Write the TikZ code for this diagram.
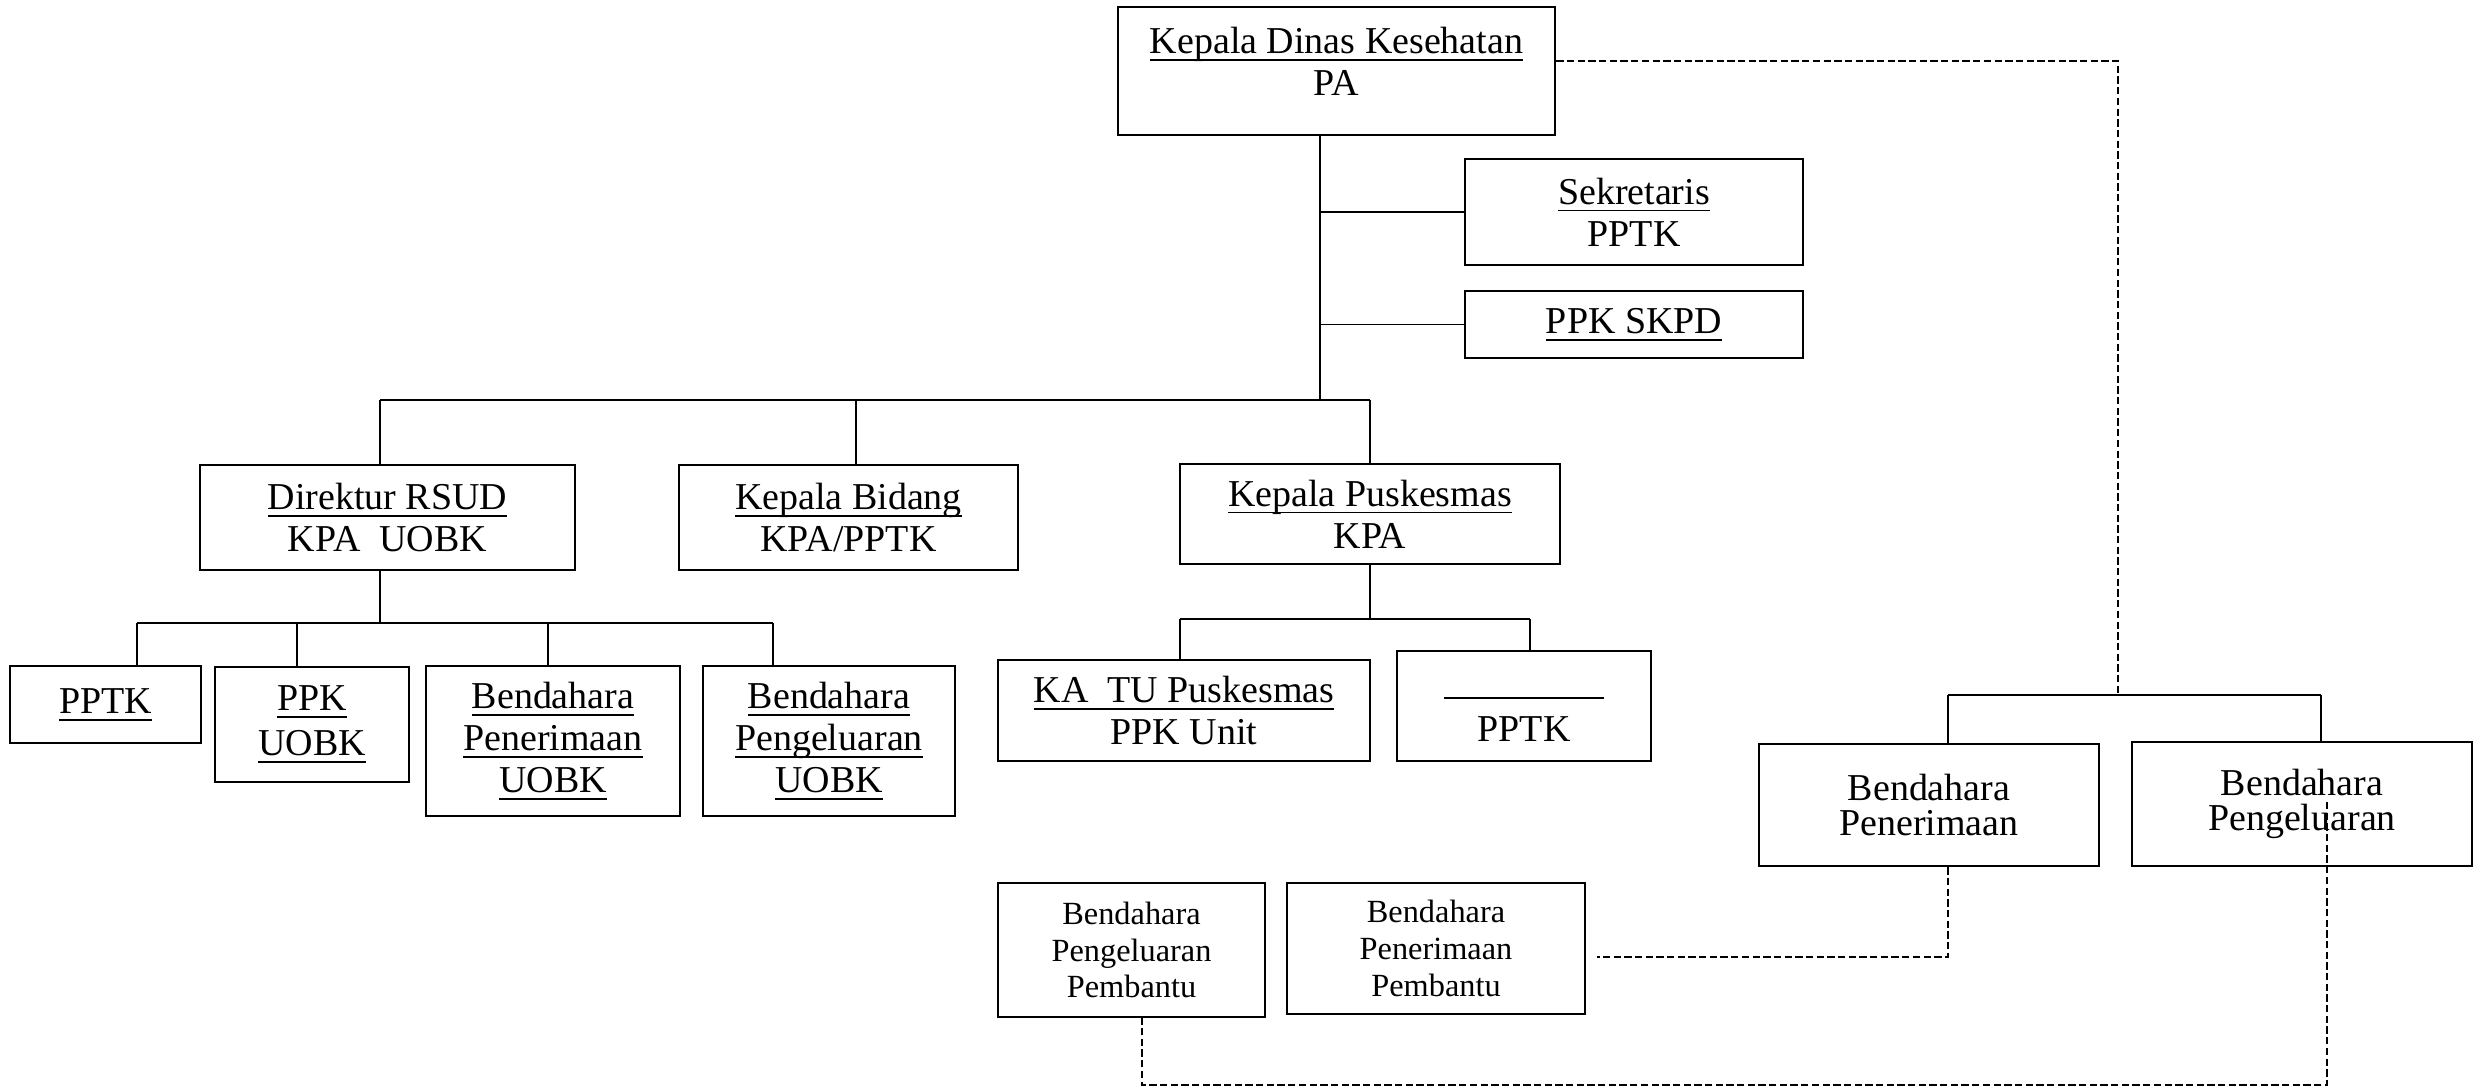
\documentclass[tikz,border=0pt]{standalone}
\usepackage{fontspec}
\setmainfont{Liberation Serif}
% underline at a fixed depth below the baseline, crossing descenders
\newsavebox\ulbox
\newcommand{\uln}[1]{\sbox\ulbox{#1}\rlap{\rule[-2.6pt]{\wd\ulbox}{0.65pt}}\usebox\ulbox}
\begin{document}
\begin{tikzpicture}[x=0.0125cm,y=-0.0125cm,
  box/.style={draw, line width=0.9pt, inner sep=0pt, align=center,
    font=\fontsize{13.5}{15}\selectfont},
  boxr/.style={box, font=\fontsize{13.5}{12.6}\selectfont},
  boxs/.style={box, font=\fontsize{11.5}{13.1}\selectfont},
  conn/.style={line width=0.7pt},
  thinconn/.style={line width=0.45pt},
  dsh/.style={line width=0.7pt, dash pattern=on 2.6pt off 1.2pt}]
\fill[white] (0,0) rectangle (2480,1089);
\useasboundingbox (0,0) rectangle (2480,1089);

% top level
\node[box, minimum width=5.4625cm, minimum height=1.6cm] (kadis) at (1336.5,71)
  {\uln{Kepala Dinas Kesehatan}\\PA\rule[-6.6pt]{0pt}{0pt}};
\node[box, minimum width=4.225cm, minimum height=1.325cm] (sek) at (1634,212)
  {\uln{Sekretaris}\\PPTK};
\node[box, minimum width=4.225cm, minimum height=0.8375cm] (skpd) at (1634,324.5)
  {\uln{PPK SKPD}};

% second level
\node[box, minimum width=4.6875cm, minimum height=1.3125cm] (dir) at (387.5,517.5)
  {\uln{Direktur RSUD}\\KPA~~UOBK};
\node[box, minimum width=4.2375cm, minimum height=1.3125cm] (kbid) at (848.5,517.5)
  {\uln{Kepala Bidang}\\KPA/PPTK};
\node[box, minimum width=4.75cm, minimum height=1.25cm] (kpus) at (1370,514)
  {\uln{Kepala Puskesmas}\\KPA};

% units under the hospital director
\node[box, minimum width=2.3875cm, minimum height=0.9625cm] (pptka) at (105.5,704.5)
  {\uln{PPTK}};
\node[box, minimum width=2.425cm, minimum height=1.4375cm] (ppkuobk) at (312,724.5)
  {\uln{PPK}\\[1pt]\uln{UOBK}};
\node[box, minimum width=3.175cm, minimum height=1.875cm] (bpu) at (553,741)
  {\uln{Bendahara}\\\uln{Penerimaan}\\\uln{UOBK}};
\node[box, minimum width=3.15cm, minimum height=1.875cm] (bgu) at (829,741)
  {\uln{Bendahara}\\\uln{Pengeluaran}\\\uln{UOBK}};

% units under the puskesmas head
\node[box, minimum width=4.65cm, minimum height=1.2625cm] (katu) at (1184,710.5)
  {\uln{KA~~TU Puskesmas}\\PPK Unit};
\node[box, minimum width=3.175cm, minimum height=1.375cm] (pptkb) at (1524,706)
  {\uln{\rule{0pt}{7.3pt}\hspace{57pt}}\\[2.6pt]PPTK};

% treasurers
\node[boxr, minimum width=4.25cm, minimum height=1.525cm] (bpen) at (1929,805)
  {Bendahara\\Penerimaan};
\node[boxr, minimum width=4.25cm, minimum height=1.55cm] (bpeng) at (2302,804)
  {Bendahara\\Pengeluaran};
\node[boxs, minimum width=3.3375cm, minimum height=1.675cm] (bpp1) at (1131.5,950)
  {Bendahara\\Pengeluaran\\Pembantu};
\node[boxs, minimum width=3.725cm, minimum height=1.6375cm] (bpp2) at (1436,948.5)
  {Bendahara\\Penerimaan\\Pembantu};

% main trunk and first bus
\coordinate (j0) at (1320,400);
\coordinate (b0l) at (380,400);
\coordinate (b0m) at (856,400);
\coordinate (b0r) at (1370,400);
\draw[conn] (j0 |- kadis.south) -- (j0);
\draw[conn] (j0 |- sek.west) -- (sek.west);
\draw[conn] (j0 |- skpd.west) -- (skpd.west);
\draw[conn] (b0l) -- (b0r);
\draw[conn] (b0l) -- (b0l |- dir.north);
\draw[conn] (b0m) -- (b0m |- kbid.north);
\draw[conn] (b0r) -- (kpus.north);

% bus under the hospital director
\coordinate (b1) at (380,623);
\coordinate (b1a) at (137,623);
\coordinate (b1b) at (297,623);
\coordinate (b1c) at (548,623);
\coordinate (b1d) at (773,623);
\draw[conn] (b1 |- dir.south) -- (b1);
\draw[conn] (b1a) -- (b1d);
\draw[conn] (b1a) -- (b1a |- pptka.north);
\draw[conn] (b1b) -- (b1b |- ppkuobk.north);
\draw[conn] (b1c) -- (b1c |- bpu.north);
\draw[conn] (b1d) -- (b1d |- bgu.north);

% bus under the puskesmas head
\coordinate (b2) at (1370,619);
\coordinate (b2a) at (1180,619);
\coordinate (b2b) at (1530,619);
\draw[conn] (kpus.south) -- (b2);
\draw[conn] (b2a) -- (b2b);
\draw[conn] (b2a) -- (b2a |- katu.north);
\draw[conn] (b2b) -- (b2b |- pptkb.north);

% treasurer links
\coordinate (d0) at (2118,61);
\coordinate (b3) at (2118,695);
\coordinate (b3a) at (1948,695);
\coordinate (b3b) at (2321,695);
\draw[dsh] (kadis.east |- d0) -- (d0) -- (b3);
\draw[thinconn] (b3a) -- (b3b);
\draw[thinconn] (b3a) -- (b3a |- bpen.north);
\draw[thinconn] (b3b) -- (b3b |- bpeng.north);

\coordinate (e0) at (1948,957);
\coordinate (e1) at (1597,957);
\draw[dsh] (b3a |- bpen.south) -- (e0) -- (e1);

\coordinate (f0) at (2327,802);
\coordinate (f1) at (2327,1085);
\coordinate (f2) at (1142,1085);
\draw[dsh] (f0) -- (f1) -- (f2) -- (f2 |- bpp1.south);
\end{tikzpicture}
\end{document}
